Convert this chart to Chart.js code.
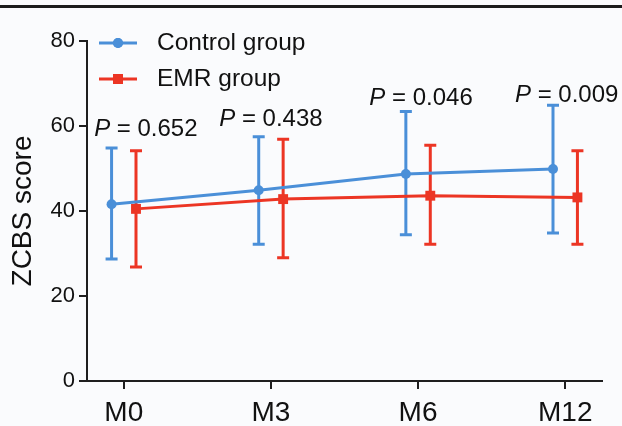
<!DOCTYPE html>
<html>
<head>
<meta charset="utf-8">
<script src="https://cdn.jsdelivr.net/npm/chart.js@4"></script>
<style>
    html, body { margin: 0; padding: 0; background: #fafbfd; }
    #wrap { position: relative; width: 622px; height: 426px; }
    #topbar { position: absolute; left: 0; top: 5px; width: 622px; height: 3px; background: #1c1c1c; }
    canvas { position: absolute; left: 0; top: 0; }
</style>
</head>
<body>
<div id="wrap">
    <div id="topbar"></div>
    <canvas id="chart" width="622" height="426"></canvas>
</div>
<script>
// Valores (media ± DE)
const categories = ['M0', 'M3', 'M6', 'M12'];
const controlMean = [41.6, 44.9, 48.7, 49.9];
const controlUpper = [54.8, 57.5, 63.4, 64.9];
const controlLower = [28.7, 32.2, 34.4, 34.8];
const emrMean = [40.5, 42.8, 43.6, 43.2];
const emrUpper = [54.2, 56.9, 55.5, 54.2];
const emrLower = [26.8, 29.0, 32.2, 32.2];
const pValues = ['0.652', '0.438', '0.046', '0.009'];
const yTicks = [0, 20, 40, 60, 80];

const colors = {
    control: '#4a8fd8',
    emr: '#ec3524',
    axis: '#1e1e1e',
    text: '#111111'
};
const FONT = "'Liberation Sans', Arial, Helvetica, sans-serif";
const SHIFT = 0.083;

const toPoints = (values, shift) => values.map((v, i) => ({ x: i + shift, y: v }));

// Barras de error
const errorBars = {
    id: 'errorBars',
    beforeDatasetsDraw(chart) {
        const { ctx, scales: { x, y } } = chart;
        chart.data.datasets.forEach(ds => {
            ctx.save();
            ctx.strokeStyle = ds.borderColor;
            ctx.lineWidth = 3;
            ds.data.forEach((p, i) => {
                const px = x.getPixelForValue(p.x);
                const top = y.getPixelForValue(ds.upper[i]);
                const bot = y.getPixelForValue(ds.lower[i]);
                ctx.beginPath();
                ctx.moveTo(px, top); ctx.lineTo(px, bot);
                ctx.moveTo(px - 6, top); ctx.lineTo(px + 6, top);
                ctx.moveTo(px - 6, bot); ctx.lineTo(px + 6, bot);
                ctx.stroke();
            });
            ctx.restore();
        });
    }
};

// Etiquetas de P sobre cada punto temporal
const pLabels = {
    id: 'pLabels',
    afterDatasetsDraw(chart, args, opts) {
        const { ctx, scales: { x, y } } = chart;
        ctx.save();
        ctx.fillStyle = colors.text;
        ctx.textBaseline = 'middle';
        ctx.textAlign = 'left';
        pValues.forEach((val, i) => {
            const cx = x.getPixelForValue(i + opts.dx[i]);
            const cy = y.getPixelForValue(opts.at[i]);
            const rest = ' = ' + val;
            ctx.font = 'italic 24px ' + FONT;
            const pW = ctx.measureText('P').width;
            ctx.font = '24px ' + FONT;
            const rW = ctx.measureText(rest).width;
            const left = cx - (pW + rW) / 2;
            ctx.font = 'italic 24px ' + FONT;
            ctx.fillText('P', left, cy);
            ctx.font = '24px ' + FONT;
            ctx.fillText(rest, left + pW, cy);
        });
        ctx.restore();
    }
};

// Leyenda con línea + marcador
const lineLegend = {
    id: 'lineLegend',
    afterDraw(chart, args, opts) {
        const { ctx } = chart;
        ctx.save();
        chart.data.datasets.forEach((ds, i) => {
            const yy = opts.top + i * opts.gap;
            ctx.strokeStyle = ds.borderColor;
            ctx.fillStyle = ds.borderColor;
            ctx.lineWidth = 3;
            ctx.beginPath();
            ctx.moveTo(opts.left, yy);
            ctx.lineTo(opts.left + 38, yy);
            ctx.stroke();
            Chart.helpers.drawPoint(ctx, { pointStyle: ds.pointStyle, radius: ds.pointRadius, borderWidth: 0 }, opts.left + 19, yy);
            ctx.fill();
            ctx.fillStyle = colors.text;
            ctx.font = '24.5px ' + FONT;
            ctx.textBaseline = 'middle';
            ctx.fillText(ds.label, opts.left + 58, yy);
        });
        ctx.restore();
    }
};

new Chart(document.getElementById('chart'), {
    type: 'scatter',
    data: {
        datasets: [
            {
                label: 'Control group',
                data: toPoints(controlMean, -SHIFT),
                upper: controlUpper,
                lower: controlLower,
                borderColor: colors.control,
                backgroundColor: colors.control,
                showLine: true,
                borderWidth: 3,
                pointStyle: 'circle',
                pointRadius: 5,
                pointBorderWidth: 0
            },
            {
                label: 'EMR group',
                data: toPoints(emrMean, SHIFT),
                upper: emrUpper,
                lower: emrLower,
                borderColor: colors.emr,
                backgroundColor: colors.emr,
                showLine: true,
                borderWidth: 3,
                pointStyle: 'rect',
                pointRadius: 7,
                pointBorderWidth: 0
            }
        ]
    },
    options: {
        responsive: false,
        animation: false,
        layout: { padding: { top: 41, right: 20, left: 0, bottom: 0 } },
        plugins: {
            legend: { display: false },
            tooltip: { enabled: false },
            pLabels: { dx: [0.15, 0, 0.02, 0.01], at: [59.1, 61.6, 66.4, 67.3] },
            lineLegend: { left: 99, top: 43, gap: 36 }
        },
        scales: {
            x: {
                type: 'linear',
                min: -0.25,
                max: 3.25,
                afterBuildTicks: scale => { scale.ticks = categories.map((_, i) => ({ value: i })); },
                afterFit: scale => { scale.height = 45; },
                ticks: {
                    callback: v => categories[v],
                    color: colors.text,
                    font: { family: FONT, size: 28 },
                    padding: 7,
                    maxRotation: 0,
                    autoSkip: false
                },
                grid: { drawOnChartArea: false, drawTicks: true, tickLength: 8, color: colors.axis, lineWidth: 2 },
                border: { display: true, color: colors.axis, width: 2 }
            },
            y: {
                min: 0,
                max: 80,
                afterBuildTicks: scale => { scale.ticks = yTicks.map(v => ({ value: v })); },
                afterFit: scale => { scale.width = 87; },
                title: {
                    display: true,
                    text: 'ZCBS score',
                    color: colors.text,
                    font: { family: FONT, size: 28 },
                    padding: { top: 6, bottom: 0 }
                },
                ticks: {
                    color: colors.text,
                    font: { family: FONT, size: 22 },
                    padding: 4
                },
                grid: { drawOnChartArea: false, drawTicks: true, tickLength: 8, color: colors.axis, lineWidth: 2 },
                border: { display: true, color: colors.axis, width: 2 }
            }
        }
    },
    plugins: [errorBars, pLabels, lineLegend]
});
</script>
</body>
</html>
